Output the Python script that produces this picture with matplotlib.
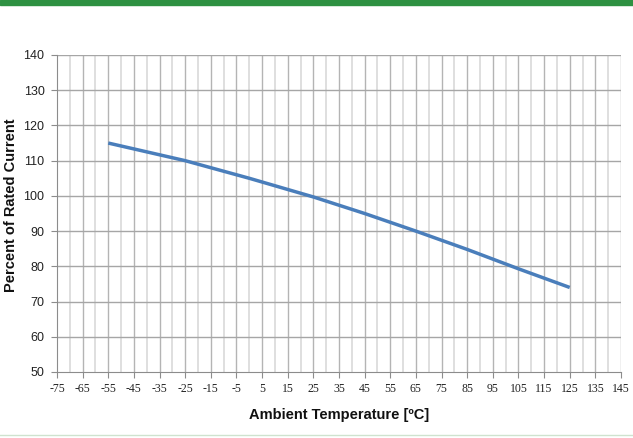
import matplotlib
matplotlib.use("Agg")
import matplotlib.pyplot as plt
from matplotlib.ticker import FixedLocator

temps = [-55, -25, 0, 25, 45, 65, 85, 105, 125]
percent = [115, 110, 105, 99.7, 95, 90, 84.8, 79.3, 74]
x_ticks = list(range(-75, 146, 10))
y_ticks = list(range(50, 141, 10))

fig = plt.figure(figsize=(6.33, 4.38), dpi=100)
ax = fig.add_axes([57/633, 1-372/438, (621-57)/633, (372-55)/438])

ax.set_xlim(-75, 145)
ax.set_ylim(50, 140)

# grid
for v in range(-70, 146, 10):
    ax.axvline(v, color="#d9d9d9", lw=1.2, zorder=1)
for v in x_ticks[1:]:
    ax.axvline(v, color="#b4b4b4", lw=1.0, zorder=1)
for v in y_ticks[1:]:
    ax.axhline(v, color="#a6a6a6", lw=1.0, zorder=1)

ax.plot(temps, percent, color="#4a7ebb", lw=2.5, zorder=3, solid_capstyle="butt")

for s in ["top", "right"]:
    ax.spines[s].set_visible(False)
ax.spines["left"].set_color("#8c8c8c")
ax.spines["bottom"].set_color("#8c8c8c")

ax.xaxis.set_major_locator(FixedLocator(x_ticks))
ax.yaxis.set_major_locator(FixedLocator(y_ticks))
ax.tick_params(axis="both", colors="#8c8c8c", length=4, width=0.8)
ax.tick_params(axis="y", direction="out", pad=5)
ax.tick_params(axis="x", direction="out", pad=4)
ax.set_xticklabels([str(v) for v in x_ticks], family="Liberation Serif",
                   fontsize=8.5, color="#222222")
ax.set_yticklabels([str(v) for v in y_ticks], family="Liberation Sans",
                   fontsize=9, color="#222222")

ax.set_xlabel("Ambient Temperature [ºC]", family="Liberation Sans", fontweight="bold",
              fontsize=10.5, labelpad=9, color="#111111")
ax.set_ylabel("Percent of Rated Current", family="Liberation Sans", fontweight="bold",
              fontsize=10.5, color="#111111")
ax.yaxis.set_label_coords(-39/564, 0.527)

# decorative bars
fig.patches.append(plt.Rectangle((0, 1-5/438), 1, 5/438, transform=fig.transFigure,
                                 color="#2e9142", zorder=0))
fig.lines.append(plt.Line2D([0, 1], [1-435/438, 1-435/438], transform=fig.transFigure,
                            color="#cfe3cf", lw=1.0))

fig.savefig("out.png", dpi=100)
